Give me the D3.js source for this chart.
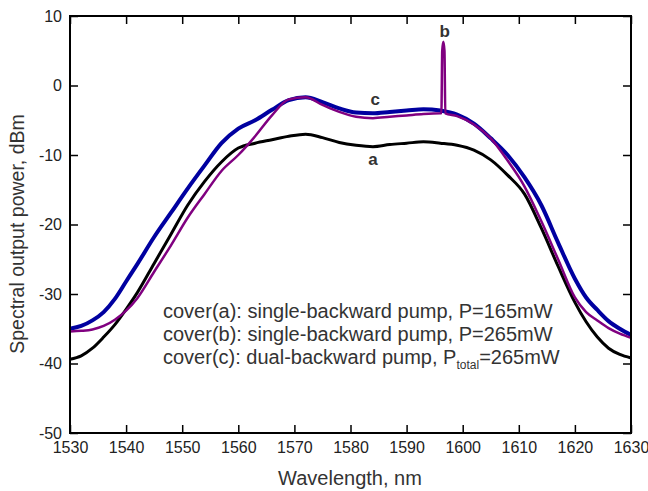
<!DOCTYPE html>
<html>
<head>
<meta charset="utf-8">
<script src="https://cdn.jsdelivr.net/npm/d3@7"></script>
<style>
  body { margin: 0; background: #fff; }
  svg { display: block; font-family: Arial, "Liberation Sans", sans-serif; }
</style>
</head>
<body>
<svg id="chart" width="648" height="491"></svg>
<script>
// wavelength grid (nm) shared by curves a and c
var wavelength = [1530, 1532, 1534, 1536, 1538, 1540, 1542, 1545, 1548, 1551, 1554, 1557, 1560,
  1563, 1566, 1569, 1572, 1575, 1578, 1581, 1584, 1587, 1590, 1593, 1596, 1599, 1602, 1605,
  1608, 1611, 1614, 1617, 1620, 1622, 1624, 1626, 1628, 1630];

// curve a: single-backward pump, 165 mW
var powerA = [-39.4, -38.9, -37.8, -36.2, -34.4, -32.2, -29.8, -25.6, -21.4, -17.2, -13.8, -11.0, -9.0,
  -8.3, -7.8, -7.3, -7.0, -7.5, -8.2, -8.6, -8.8, -8.5, -8.3, -8.1, -8.3, -8.6, -9.3, -10.7,
  -12.9, -15.6, -20.5, -26.0, -31.2, -34.0, -36.2, -37.8, -38.7, -39.2];

// curve c: dual-backward pump, 265 mW total
var powerC = [-35.0, -34.6, -33.8, -32.6, -30.7, -28.2, -25.7, -21.8, -18.3, -14.8, -11.5, -8.3, -6.2,
  -5.0, -3.5, -2.1, -1.7, -2.4, -3.3, -3.9, -4.0, -3.8, -3.6, -3.4, -3.6, -4.2, -5.5, -7.6,
  -10.0, -13.2, -17.2, -22.6, -27.8, -30.5, -32.3, -33.9, -35.0, -35.9];

// curve b: single-backward pump, 265 mW (own grid, includes the residual pump spike)
var wavelengthB = [1530, 1532, 1534, 1536, 1538, 1540, 1542, 1545, 1548, 1551, 1554, 1557, 1560,
  1563, 1566, 1569, 1572, 1575, 1578, 1581, 1584, 1587, 1590, 1593, 1596, 1596.2, 1596.35,
  1596.55, 1596.75, 1596.9, 1599, 1602, 1605, 1608, 1611, 1614, 1617, 1620, 1622, 1624,
  1626, 1628, 1630];
var powerB = [-35.4, -35.3, -35.1, -34.6, -33.7, -32.4, -30.6, -26.8, -23.0, -19.0, -15.6, -12.3, -10.0,
  -7.3, -4.3, -2.0, -1.7, -2.8, -3.8, -4.5, -4.7, -4.5, -4.3, -4.1, -4.0, -4.0, 5.0,
  6.3, 5.0, -4.0, -4.4, -5.6, -7.6, -10.8, -14.5, -19.5, -25.0, -30.5, -32.6, -33.8,
  -34.9, -35.7, -36.3];

var xTicks = [1530, 1540, 1550, 1560, 1570, 1580, 1590, 1600, 1610, 1620, 1630];
var yTicks = [-50, -40, -30, -20, -10, 0, 10];

var legendLines = [
  ["cover(a): single-backward pump, P=165mW"],
  ["cover(b): single-backward pump, P=265mW"],
  ["cover(c): dual-backward pump, P", "total", "=265mW"]
];

var margin = {top: 16, right: 17, bottom: 58, left: 70},
    width = 648 - margin.left - margin.right,
    height = 491 - margin.top - margin.bottom;

var svg = d3.select("#chart");
var g = svg.append("g")
  .attr("transform", "translate(" + margin.left + "," + margin.top + ")");

var x = d3.scaleLinear().domain([1530, 1630]).range([0, width]);
var y = d3.scaleLinear().domain([-50, 10]).range([height, 0]);

function pairs(xs, ys) {
  return xs.map(function(d, i) { return [d, ys[i]]; });
}
function plain(d) { return String(d); }

var line = d3.line()
  .x(function(d) { return x(d[0]); })
  .y(function(d) { return y(d[1]); })
  .curve(d3.curveMonotoneX);

// axes, ticks pointing inward on all four sides
var axBottom = g.append("g")
  .attr("transform", "translate(0," + height + ")")
  .call(d3.axisBottom(x).tickValues(xTicks).tickSize(-8).tickPadding(9).tickFormat(plain));
var axLeft = g.append("g")
  .call(d3.axisLeft(y).tickValues(yTicks).tickSize(-8).tickPadding(8).tickFormat(plain));
var axTop = g.append("g")
  .call(d3.axisTop(x).tickValues(xTicks).tickSize(-8).tickFormat(""));
var axRight = g.append("g")
  .attr("transform", "translate(" + width + ",0)")
  .call(d3.axisRight(y).tickValues(yTicks).tickSize(-8).tickFormat(""));

[axBottom, axLeft, axTop, axRight].forEach(function(ax) {
  ax.select(".domain").remove();
  ax.selectAll(".tick line").attr("stroke", "#000").attr("stroke-width", 1.5);
  ax.selectAll(".tick text").attr("fill", "#222").style("font-size", "16px");
});

// curves
g.append("path").datum(pairs(wavelength, powerA))
  .attr("fill", "none").attr("stroke", "#000").attr("stroke-width", 3)
  .attr("d", line);
g.append("path").datum(pairs(wavelength, powerC))
  .attr("fill", "none").attr("stroke", "#0000a0").attr("stroke-width", 4)
  .attr("d", line);
g.append("path").datum(pairs(wavelengthB, powerB))
  .attr("fill", "none").attr("stroke", "#800080").attr("stroke-width", 2.5)
  .attr("d", line);

// frame
g.append("rect")
  .attr("width", width).attr("height", height)
  .attr("fill", "none").attr("stroke", "#000").attr("stroke-width", 2);

// curve labels
var curveLabels = [["a", 1584.0, -11.4], ["b", 1596.8, 7.0], ["c", 1584.4, -2.8]];
g.selectAll(".clabel").data(curveLabels).enter().append("text")
  .attr("class", "clabel")
  .attr("x", function(d) { return x(d[1]); })
  .attr("y", function(d) { return y(d[2]); })
  .attr("text-anchor", "middle")
  .attr("fill", "#333")
  .style("font-size", "17px").style("font-weight", "bold")
  .text(function(d) { return d[0]; });

// legend text
var legend = svg.append("g").attr("transform", "translate(163,318)");
legendLines.forEach(function(parts, i) {
  var t = legend.append("text")
    .attr("y", i * 23)
    .attr("fill", "#333")
    .style("font-size", "20px");
  t.append("tspan").text(parts[0]);
  if (parts.length > 1) {
    t.append("tspan").attr("dy", 5).style("font-size", "12px").text(parts[1]);
    t.append("tspan").attr("dy", -5).text(parts[2]);
  }
});

// axis titles
svg.append("text")
  .attr("x", 350)
  .attr("y", 485)
  .attr("text-anchor", "middle")
  .attr("fill", "#333")
  .style("font-size", "20px")
  .text("Wavelength, nm");

svg.append("text")
  .attr("transform", "translate(24,234) rotate(-90)")
  .attr("text-anchor", "middle")
  .attr("fill", "#333")
  .style("font-size", "19.5px")
  .text("Spectral output power, dBm");
</script>
</body>
</html>
